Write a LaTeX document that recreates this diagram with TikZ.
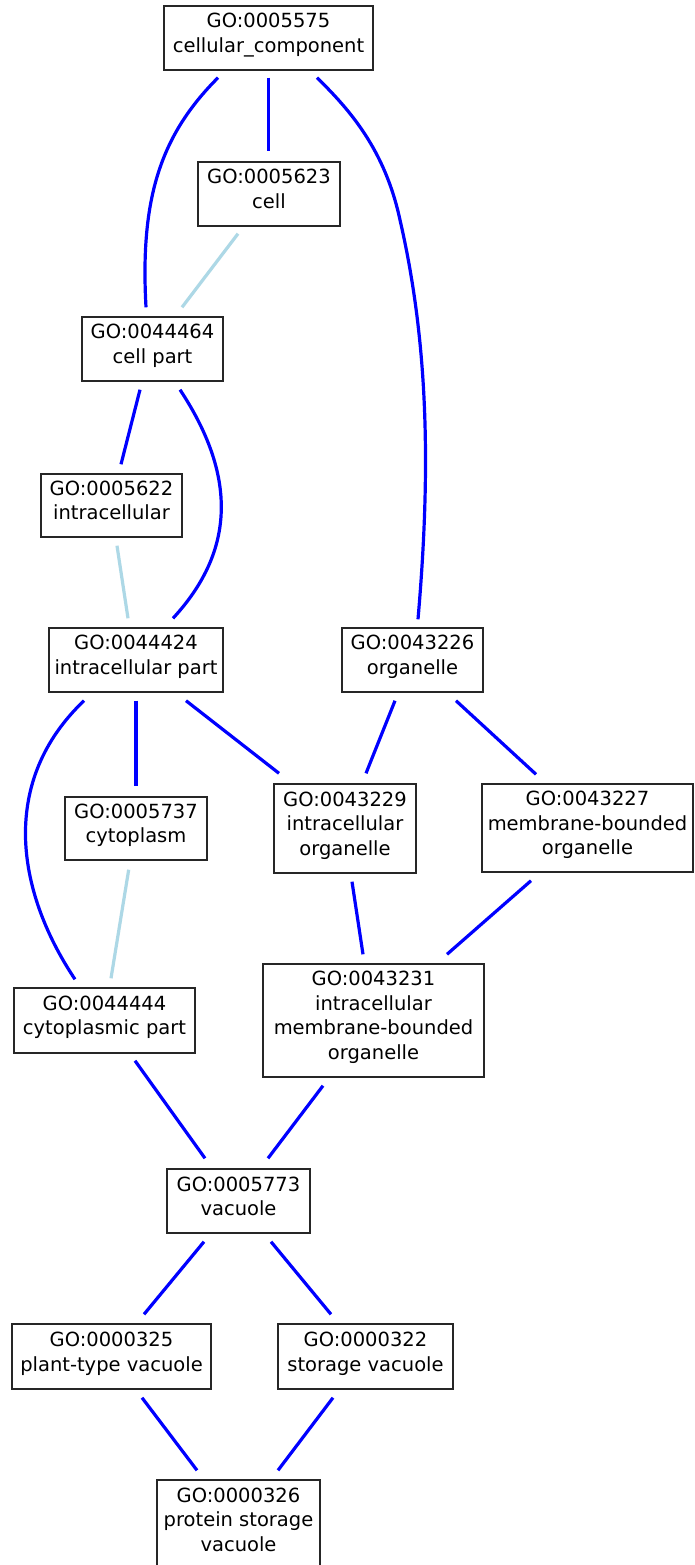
\documentclass[tikz,border=0pt]{standalone}
\usepackage{fontspec}
\setmainfont{DejaVu Sans}
\begin{document}
\begin{tikzpicture}[x=1pt,y=-1pt,
  term/.style={draw=black!85,line width=1.4pt,rectangle,inner sep=0pt,align=center,
    font=\fontsize{19.5}{24.5}\selectfont,text depth=10pt,fill=white},
  isa/.style={draw={rgb,255:red,0;green,0;blue,255},line width=3.2pt},
  partof/.style={draw={rgb,255:red,173;green,216;blue,230},line width=3.2pt}]
\fill[white] (0,0) rectangle (694,1565);
\useasboundingbox (0,0) rectangle (694,1565);

% GO terms
\node[term,minimum width=209pt,minimum height=64pt] (a) at (268.5,38) {GO:0005575\\cellular\_component};
\node[term,minimum width=142pt,minimum height=64pt] (b) at (269,194) {GO:0005623\\cell};
\node[term,minimum width=141pt,minimum height=64pt] (c) at (152.5,349) {GO:0044464\\cell part};
\node[term,minimum width=141pt,minimum height=63pt] (d) at (111.5,505.5) {GO:0005622\\intracellular};
\node[term,minimum width=174pt,minimum height=64pt] (e) at (136,660) {GO:0044424\\intracellular part};
\node[term,minimum width=141pt,minimum height=64pt] (f) at (412.5,660) {GO:0043226\\organelle};
\node[term,minimum width=142pt,minimum height=63pt] (g) at (136,828.5) {GO:0005737\\cytoplasm};
\node[term,minimum width=142pt,minimum height=89pt] (h) at (345,828.5) {GO:0043229\\intracellular\\organelle};
\node[term,minimum width=211pt,minimum height=88pt] (i) at (587.5,828) {GO:0043227\\membrane-bounded\\organelle};
\node[term,minimum width=181pt,minimum height=65pt] (j) at (104.5,1020.5) {GO:0044444\\cytoplasmic part};
\node[term,minimum width=221pt,minimum height=113pt] (k) at (373.5,1020.5) {GO:0043231\\intracellular\\membrane-bounded\\organelle};
\node[term,minimum width=143pt,minimum height=64pt] (l) at (238.5,1201) {GO:0005773\\vacuole};
\node[term,minimum width=199pt,minimum height=65pt] (m) at (111.5,1356.5) {GO:0000325\\plant-type vacuole};
\node[term,minimum width=175pt,minimum height=65pt] (n) at (365.5,1356.5) {GO:0000322\\storage vacuole};
\node[term,minimum width=163pt,minimum height=89pt] (o) at (238.5,1524.5) {GO:0000326\\protein storage\\vacuole};

% relations
\draw[isa] ([shift={(-50.5,7)}]a.south) .. controls +(-58,58) and +(-6,-108) .. ([shift={(-6.5,-9)}]c.north);
\draw[isa] ([shift={(0,7)}]a.south) -- ([shift={(-0.5,-10)}]b.north);
\draw[isa] ([shift={(48.5,7)}]a.south) .. controls (350,110) and (385,150) .. (400,220)
  .. controls (430,350) and (430,480) .. ([shift={(5.5,-8)}]f.north);
\draw[partof] ([shift={(-31,7)}]b.south) -- ([shift={(29.5,-9)}]c.north);
\draw[isa] ([shift={(-12.5,8)}]c.south) -- ([shift={(9.5,-9)}]d.north);
\draw[isa] ([shift={(27.5,8)}]c.south) .. controls +(60,91) and +(59,-64) .. ([shift={(37,-9)}]e.north);
\draw[partof] ([shift={(5.5,8)}]d.south) -- ([shift={(-8,-9)}]e.north);
\draw[isa] ([shift={(-52,8)}]e.south) .. controls +(-84,80) and +(-60,-90) .. ([shift={(-29.5,-8)}]j.north);
\draw[isa] ([shift={(0,8)}]e.south) -- ([shift={(0,-10)}]g.north);
\draw[isa] ([shift={(50,8)}]e.south) -- ([shift={(-66,-10)}]h.north);
\draw[isa] ([shift={(-17.5,8)}]f.south) -- ([shift={(21,-10)}]h.north);
\draw[isa] ([shift={(43.5,8)}]f.south) -- ([shift={(-51.5,-9)}]i.north);
\draw[partof] ([shift={(-7.3,9)}]g.south) -- ([shift={(6.5,-9)}]j.north);
\draw[isa] ([shift={(7,8)}]h.south) -- ([shift={(-10.5,-9)}]k.north);
\draw[isa] ([shift={(-56.5,8)}]i.south) -- ([shift={(73.5,-9)}]k.north);
\draw[isa] ([shift={(30.5,7)}]j.south) -- ([shift={(-33.5,-10)}]l.north);
\draw[isa] ([shift={(-50.5,8)}]k.south) -- ([shift={(29.5,-10)}]l.north);
\draw[isa] ([shift={(-34.5,8)}]l.south) -- ([shift={(32.5,-9)}]m.north);
\draw[isa] ([shift={(32.5,8)}]l.south) -- ([shift={(-34.5,-9)}]n.north);
\draw[isa] ([shift={(30.5,8)}]m.south) -- ([shift={(-41.5,-9)}]o.north);
\draw[isa] ([shift={(-32.5,8)}]n.south) -- ([shift={(39.5,-9)}]o.north);
\end{tikzpicture}
\end{document}
